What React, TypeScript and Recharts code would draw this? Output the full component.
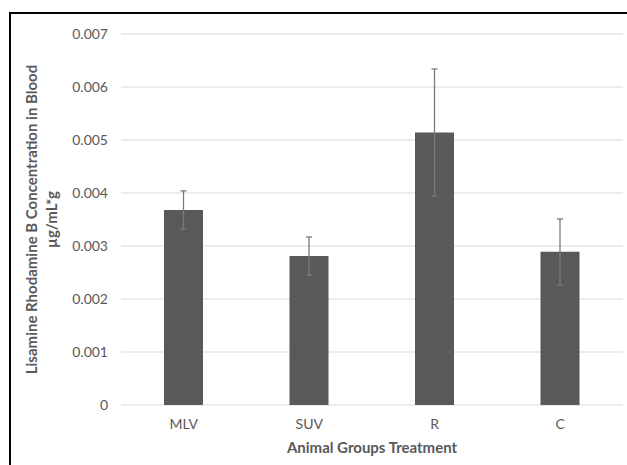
import React from 'react';
import { BarChart, Bar, XAxis, YAxis, CartesianGrid, ErrorBar, Label } from 'recharts';

const categories = ['MLV', 'SUV', 'R', 'C'];
const means = [0.00368, 0.00281, 0.00514, 0.00289];
const errors = [0.00036, 0.00036, 0.0012, 0.00062];
const yTicks = [0, 0.001, 0.002, 0.003, 0.004, 0.005, 0.006, 0.007];

const xTitle = 'Animal Groups Treatment';
const yTitleLine1 = 'Lisamine Rhodamine B Concentration in Blood';
const yTitleLine2 = 'µg/mL*g';

const data = categories.map((name, i) => ({ name, value: means[i], err: errors[i] }));

const FONT = 'Lato, "Open Sans", sans-serif';
const TEXT = '#595959';

const YTitle = (props: any) => {
  const vb = props.viewBox || { x: 0, y: 34, width: 121, height: 371 };
  const cy = vb.y + vb.height / 2;
  return (
    <g>
      <text
        transform={`translate(${vb.x + 37},${cy}) rotate(-90)`}
        textAnchor="middle"
        fontFamily={FONT}
        fontWeight="bold"
        fontSize={15}
        fill={TEXT}
      >
        {yTitleLine1}
      </text>
      <text
        transform={`translate(${vb.x + 57},${cy}) rotate(-90)`}
        textAnchor="middle"
        fontFamily={FONT}
        fontWeight="bold"
        fontSize={15}
        fill={TEXT}
      >
        {yTitleLine2}
      </text>
    </g>
  );
};

export default function App() {
  return (
    <div style={{ position: 'absolute', left: 0, top: 0, width: 627, height: 465, background: '#fff' }}>
      <div
        style={{
          position: 'absolute',
          left: 9,
          top: 12,
          width: 640,
          height: 470,
          borderTop: '2px solid #000',
          borderLeft: '2px solid #000',
          boxSizing: 'border-box',
        }}
      />
      <div style={{ position: 'absolute', left: 0, top: 0 }}>
        <BarChart width={627} height={465} data={data} margin={{ top: 34, right: 4, bottom: 0, left: 0 }}>
          <CartesianGrid vertical={false} stroke="#d9d9d9" strokeWidth={1} />
          <XAxis
            dataKey="name"
            height={60}
            axisLine={false}
            tickLine={false}
            tickSize={0}
            tickMargin={14}
            tick={{ fill: TEXT, fontSize: 14, fontFamily: FONT }}
          >
            <Label
              value={xTitle}
              position="insideBottom"
              offset={12}
              fill={TEXT}
              fontSize={15}
              fontWeight="bold"
              fontFamily={FONT}
            />
          </XAxis>
          <YAxis
            width={121}
            domain={[0, 0.007]}
            ticks={yTicks}
            interval={0}
            axisLine={false}
            tickLine={false}
            tickSize={0}
            tickMargin={13}
            tickFormatter={(v: number) => (v === 0 ? '0' : v.toFixed(3))}
            tick={{ fill: TEXT, fontSize: 14, fontFamily: FONT }}
          >
            <Label content={YTitle} />
          </YAxis>
          <Bar dataKey="value" fill="#595959" barSize={39} isAnimationActive={false}>
            <ErrorBar dataKey="err" width={3} stroke="#7a7a7a" strokeWidth={1.3} isAnimationActive={false} />
          </Bar>
        </BarChart>
      </div>
    </div>
  );
}
